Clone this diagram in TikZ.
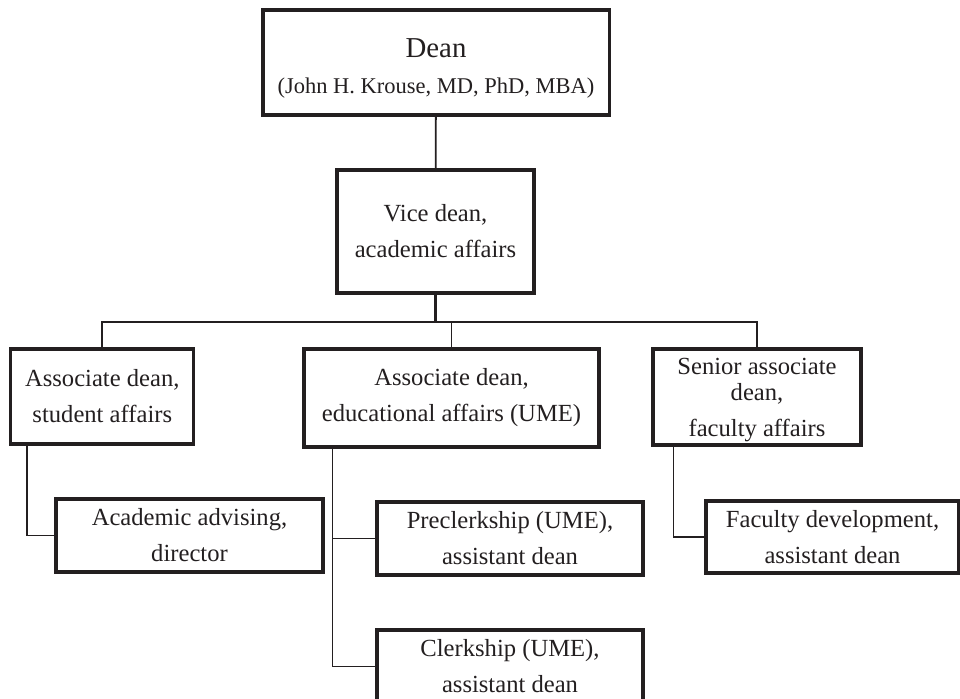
\documentclass[tikz,border=0pt]{standalone}
\usepackage{fontspec}
\setmainfont{Liberation Serif}
\usetikzlibrary{calc,positioning}
\definecolor{OrgInk}{RGB}{35,31,32}

\begin{document}
\begin{tikzpicture}[x=0.025cm,y=-0.025cm,
    box/.style={draw=OrgInk,text=OrgInk,line width=2.2pt,align=center,
      inner sep=0pt,font=\fontsize{17.5}{25.5}\selectfont},
    boxsize/.style 2 args={minimum width=#1,minimum height=#2},
    link/.style={draw=OrgInk,line width=1.3pt},
    trunk/.style={draw=OrgInk,line width=2.2pt}]
  \useasboundingbox (0,0) rectangle (960,698);
  \clip (0,0) rectangle (960,698);
  % top of the chart
  \node[box,boxsize={8.65cm}{2.625cm}] (dean) at (436,62.5)
    {\rule{0pt}{22pt}{\fontsize{20.5}{24}\selectfont Dean}\\[0pt]
     {\fontsize{16}{20}\selectfont (John H. Krouse, MD, PhD, MBA)}};
  \node[box,boxsize={4.925cm}{3.075cm}] (vice) at (435.5,231.5)
    {Vice dean,\\academic affairs};
  % second level
  \node[box,boxsize={4.575cm}{2.375cm}] (student) at (102.3,396.5)
    {Associate dean,\\student affairs};
  \node[box,boxsize={7.375cm}{2.45cm}] (ume) at (451.5,398)
    {Associate dean,\\educational affairs (UME)};
  \node[box,boxsize={5.2cm}{2.4cm}] (senior) at (757,397)
    {\rule{0pt}{16pt}Senior associate\\[-7pt]dean,\\faculty affairs};
  % third level
  \node[box,boxsize={6.675cm}{1.825cm}] (advising) at (189.5,535.5)
    {Academic advising,\\director};
  \node[box,boxsize={6.65cm}{1.825cm}] (preclerk) at (510,538.5)
    {Preclerkship (UME),\\assistant dean};
  \node[box,boxsize={6.65cm}{1.825cm}] (clerk) at (510,666.5)
    {Clerkship (UME),\\assistant dean};
  \node[box,boxsize={6.325cm}{1.8cm}] (facdev) at (832.5,537)
    {Faculty development,\\assistant dean};
  % connectors
  \coordinate (bar) at ($(vice.south)+(0,27.5)$);
  \draw[link] (dean) -- (vice);
  \draw[trunk] (vice) -- (bar);
  \draw[link] (student.north) |- (bar) -| (senior.north);
  \draw[link] (ume.north) -- (ume.north |- bar);
  \coordinate (studentTap) at ($(student.south west)+(18,0)$);
  \coordinate (umeTap) at ($(ume.south west)+(30,0)$);
  \coordinate (seniorTap) at ($(senior.south west)+(22,0)$);
  \draw[link] (studentTap) |- (advising.west);
  \draw[link] (umeTap) |- (clerk.west);
  \draw[link] (umeTap |- preclerk.west) -- (preclerk.west);
  \draw[link] (seniorTap) |- (facdev.west);
\end{tikzpicture}
\end{document}
